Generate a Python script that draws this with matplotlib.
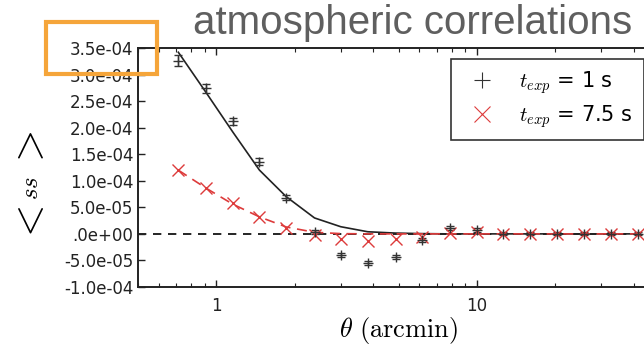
import matplotlib
matplotlib.use("Agg")
import matplotlib.pyplot as plt
from matplotlib.patches import Rectangle

plt.rcParams['mathtext.fontset'] = 'cm'

# angular separations (arcmin)
theta = [0.714, 0.913, 1.155, 1.463, 1.854, 2.38, 3.0, 3.81, 4.87, 6.18,
         7.87, 9.97, 12.6, 16.0, 20.3, 25.8, 32.7, 41.6]

# t_exp = 1 s measurements
ss_1s = [3.26e-4, 2.74e-4, 2.12e-4, 1.36e-4, 6.8e-5, 4e-6, -3.97e-5, -5.5e-5,
         -4.3e-5, -1.15e-5, 1.05e-5, 7e-6, 0.0, 0.0, 0.0, 0.0, 0.0, 0.0]
err_1s = [1.0e-5, 9e-6, 7e-6, 7e-6, 5e-6, 4e-6, 4e-6, 4e-6, 4e-6, 4e-6,
          4e-6, 4e-6, 3e-6, 3e-6, 3e-6, 3e-6, 3e-6, 3e-6]
model_1s = [3.42e-4, 2.66e-4, 1.92e-4, 1.2e-4, 7.0e-5, 3.0e-5, 1.35e-5, 4e-6,
            1.5e-6, 0.5e-6, 0.0, 0.0, 0.0, 0.0, 0.0, 0.0, 0.0, 0.0]

# t_exp = 7.5 s measurements
ss_75s = [1.21e-4, 8.7e-5, 5.75e-5, 3.1e-5, 1.17e-5, -2e-6, -1.0e-5, -1.3e-5,
          -9.6e-6, -6.4e-6, 2.3e-6, 4e-6, 0.0, -1e-6, -1e-6, -1e-6, -1e-6, -1e-6]
model_75s = [1.2e-4, 8.6e-5, 5.6e-5, 3.2e-5, 1.3e-5, 3e-6, 0.5e-6, 0.0,
             0.0, 0.0, 0.0, 0.0, 0.0, 0.0, 0.0, 0.0, 0.0, 0.0]

yticks = [-1.0e-4, -5.0e-5, 0.0, 5.0e-5, 1.0e-4, 1.5e-4, 2.0e-4, 2.5e-4, 3.0e-4, 3.5e-4]
ytick_labels = ["-1.0e-04", "-5.0e-05", ".0e+00", "5.0e-05", "1.0e-04",
                "1.5e-04", "2.0e-04", "2.5e-04", "3.0e-04", "3.5e-04"]

red = '#dd3b3b'

fig = plt.figure(figsize=(6.44, 3.48), dpi=100)
ax = fig.add_axes([0.2143, 0.1753, 0.809, 0.6868])

ax.axhline(0, color='black', ls=(0, (5, 4)), lw=1.2, zorder=1)
ax.plot(theta, model_1s, color='#222222', lw=1.2, zorder=2)
ax.plot(theta, model_75s, color=red, lw=1.2, ls=(0, (6, 4)), zorder=2)
ax.errorbar(theta, ss_1s, yerr=err_1s, fmt='+', color='#333333', ms=7, mew=1.0,
            elinewidth=1.0, capsize=3, capthick=1.0, zorder=3)
ax.plot(theta, ss_75s, 'x', color=red, ms=8, mew=1.0, zorder=3)

ax.set_xscale('log')
ax.set_xlim(0.5, 50)
ax.set_ylim(-1.0e-4, 3.5e-4)
ax.set_yticks(yticks)
ax.set_yticklabels(ytick_labels)
ax.set_xticks([1, 10])
ax.set_xticklabels(['1', '10'])

ax.tick_params(which='both', direction='in', top=True, right=False, labelsize=12,
               colors='#222222')
ax.tick_params(which='major', length=5, width=1)
ax.tick_params(which='minor', length=3, width=0.8)
ax.tick_params(axis='x', pad=7)
for s in ax.spines.values():
    s.set_linewidth(1.4)
    s.set_color('#222222')

ax.set_xlabel(r'$\theta\ \mathrm{(arcmin)}$', fontsize=19, labelpad=0)

# y label: < ss > built from pieces (big brackets, small ss), read bottom to top
fig.text(30 / 644, 1 - 150 / 348, r'$>$', rotation=90, ha='center', va='center', fontsize=30)
fig.text(31 / 644, 1 - 188 / 348, r'$ss$', rotation=90, ha='center', va='center', fontsize=18)
fig.text(30 / 644, 1 - 225 / 348, r'$<$', rotation=90, ha='center', va='center', fontsize=30)

# legend proxies
h1, = ax.plot([], [], '+', color='#333333', ms=12, mew=0.8)
h2, = ax.plot([], [], 'x', color=red, ms=12, mew=0.8)
leg = ax.legend([h1, h2], [r'$t_{exp}$ = 1 s', r'$t_{exp}$ = 7.5 s'],
                loc='upper left', bbox_to_anchor=(0.60, 0.955), fontsize=15,
                frameon=True, fancybox=False, borderpad=0.5, labelspacing=0.35,
                handletextpad=0.8, borderaxespad=0)
leg.get_frame().set_edgecolor('black')
leg.get_frame().set_linewidth(1.2)

fig.text(413 / 644, 1 - 23 / 348, 'atmospheric correlations', ha='center', va='center',
         fontsize=29, color='#5f5f5f', family='Liberation Sans')

fig.add_artist(Rectangle((46 / 644, 1 - 74 / 348), 111 / 644, 52 / 348,
                         transform=fig.transFigure, fill=False,
                         edgecolor='#f5a53a', lw=3))

fig.savefig('out.png', dpi=100)
